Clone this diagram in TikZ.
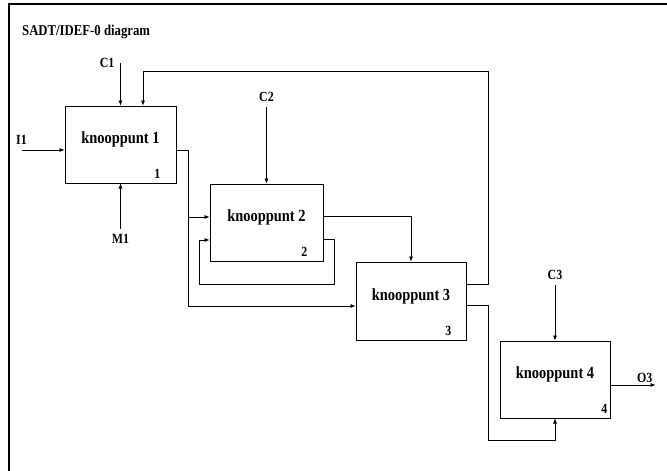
\documentclass[tikz,border=0pt]{standalone}
\usepackage{fontspec}
\setmainfont[FakeStretch=0.85]{Liberation Serif}
\usepackage{tikz}
\usetikzlibrary{arrows.meta,positioning}
\tikzset{
  sdBox/.style={
    rectangle, draw=black, fill=white, line width=1pt,
    minimum width=111pt, minimum height=77pt, inner sep=0pt,
    text height=11pt, text depth=13pt,
    font=\fontsize{17}{19}\selectfont\bfseries
  },
  sdNum/.style={font=\fontsize{14}{16}\selectfont\bfseries, inner sep=0pt},
  sdLabel/.style={font=\fontsize{14}{16}\selectfont\bfseries, inner sep=1pt},
  sdTitle/.style={font=\fontsize{15}{17}\selectfont\bfseries, inner sep=0pt},
  sdArrow/.style={-{Latex[length=5pt,width=4pt]}, draw=black, line width=0.6pt},
  sdFrame/.style={draw=black, line width=1.3pt}
}

\begin{document}
\begin{tikzpicture}[x=1pt, y=-1pt]
  \useasboundingbox (0,0) rectangle (667,471);
  \draw[sdFrame] (667,4) -| (9,471);
  \node[sdTitle, anchor=west] (title) at (22,32) {SADT/IDEF-0 diagram};

  % activity boxes, staircase
  \node[sdBox] (b1) at (120.5,144.5) {knooppunt 1};
  \node[sdBox, minimum width=113pt, below right=0pt and 33pt of b1] (b2) {knooppunt 2};
  \node[sdBox, minimum width=110pt, minimum height=78pt, below right=0pt and 32pt of b2] (b3) {knooppunt 3};
  \node[sdBox, minimum width=110pt, below right=0pt and 33pt of b3] (b4) {knooppunt 4};

  \node[sdNum, anchor=south east] (n1) at ([shift={(-16pt,5pt)}]b1.south east) {1};
  \node[sdNum, anchor=south east] (n2) at ([shift={(-16pt,5pt)}]b2.south east) {2};
  \node[sdNum, anchor=south east] (n3) at ([shift={(-15pt,5pt)}]b3.south east) {3};
  \node[sdNum, anchor=south east] (n4) at ([shift={(-3pt,5pt)}]b4.south east) {4};

  % controls, input, mechanism, output
  \coordinate (c1in) at ([yshift=43pt]b1.north);
  \node[sdLabel, left=5pt of c1in] (c1) {C1};
  \draw[sdArrow] (c1in) -- (b1.north);

  \coordinate (c2in) at ([yshift=77pt]b2.north);
  \node[sdLabel, above=4pt of c2in] (c2) {C2};
  \draw[sdArrow] (c2in) -- (b2.north);

  \coordinate (c3in) at ([yshift=56pt]b4.north);
  \node[sdLabel, above=4pt of c3in] (c3) {C3};
  \draw[sdArrow] (c3in) -- (b4.north);

  \coordinate (i1in) at ([shift={(-43pt,-5.5pt)}]b1.west);
  \node[sdLabel, above=4pt of i1in] (i1) {I1};
  \draw[sdArrow] (i1in) -- ([yshift=-5.5pt]b1.west);

  \coordinate (m1in) at ([yshift=-45pt]b1.south);
  \node[sdLabel, below=5pt of m1in] (m1) {M1};
  \draw[sdArrow] (m1in) -- (b1.south);

  \coordinate (o3out) at ([shift={(45pt,-5.5pt)}]b4.east);
  \node[sdLabel, above left=1pt and 2pt of o3out] (o3) {O3};
  \draw[sdArrow] ([yshift=-5.5pt]b4.east) -- (o3out);

  % flows between boxes
  \draw[sdArrow] ([yshift=-5.5pt]b1.east) -- ++(11.5pt,0) |- ([yshift=5.5pt]b2.west);
  \draw[sdArrow] ([yshift=-5.5pt]b1.east) -- ++(11.5pt,0) |- ([yshift=-5pt]b3.west);
  \draw[sdArrow] ([yshift=6.5pt]b2.east) -| (b3.north);
  \draw[sdArrow] ([yshift=-16.5pt]b2.east) -- ++(11pt,0) -- ++(0,-45pt)
    -| ([shift={(-10pt,-17.5pt)}]b2.west) -- ([yshift=-17.5pt]b2.west);
  \draw[sdArrow] ([yshift=17pt]b3.east) -- ++(22pt,0) |- ([shift={(22.5pt,34pt)}]b1.north)
    -- ([xshift=22.5pt]b1.north);
  \draw[sdArrow] ([yshift=-4pt]b3.east) -- ++(22pt,0) |- ([yshift=-22pt]b4.south) -- (b4.south);
\end{tikzpicture}
\end{document}
